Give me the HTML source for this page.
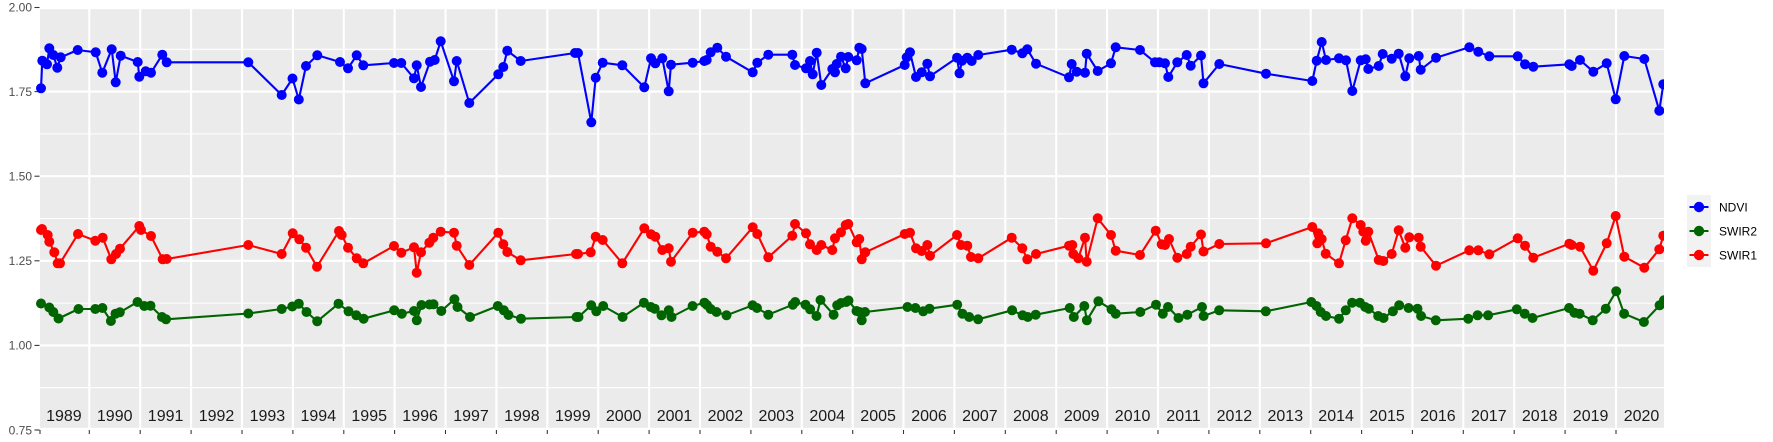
<!DOCTYPE html>
<html><head><meta charset="utf-8"><style>
html,body{margin:0;padding:0;background:#fff;}
svg{display:block;}
text{font-family:"Liberation Sans",Arial,sans-serif;}
</style></head><body>
<svg width="1773" height="442" viewBox="0 0 1773 442" xmlns="http://www.w3.org/2000/svg">
<defs>
<marker id="mb" markerWidth="12" markerHeight="12" refX="6" refY="6" markerUnits="userSpaceOnUse"><circle cx="6" cy="6" r="5" fill="#0000ff"/></marker>
<marker id="mr" markerWidth="12" markerHeight="12" refX="6" refY="6" markerUnits="userSpaceOnUse"><circle cx="6" cy="6" r="5" fill="#ff0000"/></marker>
<marker id="mg" markerWidth="12" markerHeight="12" refX="6" refY="6" markerUnits="userSpaceOnUse"><circle cx="6" cy="6" r="5" fill="#006400"/></marker>
<clipPath id="cp"><rect x="30" y="0" width="1634" height="442"/></clipPath>
</defs>
<rect x="40" y="7" width="1624" height="423" fill="#ebebeb"/>
<g stroke="#ffffff" stroke-width="1.07">
<line x1="40" x2="1664" y1="49.3" y2="49.3"/>
<line x1="40" x2="1664" y1="133.9" y2="133.9"/>
<line x1="40" x2="1664" y1="218.5" y2="218.5"/>
<line x1="40" x2="1664" y1="303.1" y2="303.1"/>
<line x1="40" x2="1664" y1="387.7" y2="387.7"/>
</g>
<g stroke="#ffffff" stroke-width="2.13">
<line x1="40" x2="1664" y1="8" y2="8"/>
<line x1="40" x2="1664" y1="91.6" y2="91.6"/>
<line x1="40" x2="1664" y1="176.2" y2="176.2"/>
<line x1="40" x2="1664" y1="260.8" y2="260.8"/>
<line x1="40" x2="1664" y1="345.4" y2="345.4"/>
<line x1="40" x2="1664" y1="429" y2="429"/>
<line x1="89.3" x2="89.3" y1="7" y2="430"/>
<line x1="140.2" x2="140.2" y1="7" y2="430"/>
<line x1="191.1" x2="191.1" y1="7" y2="430"/>
<line x1="242.0" x2="242.0" y1="7" y2="430"/>
<line x1="292.9" x2="292.9" y1="7" y2="430"/>
<line x1="343.8" x2="343.8" y1="7" y2="430"/>
<line x1="394.6" x2="394.6" y1="7" y2="430"/>
<line x1="445.5" x2="445.5" y1="7" y2="430"/>
<line x1="496.4" x2="496.4" y1="7" y2="430"/>
<line x1="547.3" x2="547.3" y1="7" y2="430"/>
<line x1="598.2" x2="598.2" y1="7" y2="430"/>
<line x1="649.1" x2="649.1" y1="7" y2="430"/>
<line x1="700.0" x2="700.0" y1="7" y2="430"/>
<line x1="750.9" x2="750.9" y1="7" y2="430"/>
<line x1="801.8" x2="801.8" y1="7" y2="430"/>
<line x1="852.7" x2="852.7" y1="7" y2="430"/>
<line x1="903.5" x2="903.5" y1="7" y2="430"/>
<line x1="954.4" x2="954.4" y1="7" y2="430"/>
<line x1="1005.3" x2="1005.3" y1="7" y2="430"/>
<line x1="1056.2" x2="1056.2" y1="7" y2="430"/>
<line x1="1107.1" x2="1107.1" y1="7" y2="430"/>
<line x1="1158.0" x2="1158.0" y1="7" y2="430"/>
<line x1="1208.9" x2="1208.9" y1="7" y2="430"/>
<line x1="1259.8" x2="1259.8" y1="7" y2="430"/>
<line x1="1310.7" x2="1310.7" y1="7" y2="430"/>
<line x1="1361.6" x2="1361.6" y1="7" y2="430"/>
<line x1="1412.4" x2="1412.4" y1="7" y2="430"/>
<line x1="1463.3" x2="1463.3" y1="7" y2="430"/>
<line x1="1514.2" x2="1514.2" y1="7" y2="430"/>
<line x1="1565.1" x2="1565.1" y1="7" y2="430"/>
<line x1="1616.0" x2="1616.0" y1="7" y2="430"/>
</g>
<!-- axis ticks -->
<g stroke="#333333" stroke-width="1.07">
<line x1="34.5" x2="39.5" y1="7.5" y2="7.5"/>
<line x1="34.5" x2="39.5" y1="91.6" y2="91.6"/>
<line x1="34.5" x2="39.5" y1="176.2" y2="176.2"/>
<line x1="34.5" x2="39.5" y1="260.8" y2="260.8"/>
<line x1="34.5" x2="39.5" y1="345.4" y2="345.4"/>
<line x1="34.5" x2="39.5" y1="430" y2="430"/>
<line x1="40" x2="40" y1="430" y2="434"/>
<line x1="89.3" x2="89.3" y1="430" y2="434"/>
<line x1="140.2" x2="140.2" y1="430" y2="434"/>
<line x1="191.1" x2="191.1" y1="430" y2="434"/>
<line x1="242.0" x2="242.0" y1="430" y2="434"/>
<line x1="292.9" x2="292.9" y1="430" y2="434"/>
<line x1="343.8" x2="343.8" y1="430" y2="434"/>
<line x1="394.6" x2="394.6" y1="430" y2="434"/>
<line x1="445.5" x2="445.5" y1="430" y2="434"/>
<line x1="496.4" x2="496.4" y1="430" y2="434"/>
<line x1="547.3" x2="547.3" y1="430" y2="434"/>
<line x1="598.2" x2="598.2" y1="430" y2="434"/>
<line x1="649.1" x2="649.1" y1="430" y2="434"/>
<line x1="700.0" x2="700.0" y1="430" y2="434"/>
<line x1="750.9" x2="750.9" y1="430" y2="434"/>
<line x1="801.8" x2="801.8" y1="430" y2="434"/>
<line x1="852.7" x2="852.7" y1="430" y2="434"/>
<line x1="903.5" x2="903.5" y1="430" y2="434"/>
<line x1="954.4" x2="954.4" y1="430" y2="434"/>
<line x1="1005.3" x2="1005.3" y1="430" y2="434"/>
<line x1="1056.2" x2="1056.2" y1="430" y2="434"/>
<line x1="1107.1" x2="1107.1" y1="430" y2="434"/>
<line x1="1158.0" x2="1158.0" y1="430" y2="434"/>
<line x1="1208.9" x2="1208.9" y1="430" y2="434"/>
<line x1="1259.8" x2="1259.8" y1="430" y2="434"/>
<line x1="1310.7" x2="1310.7" y1="430" y2="434"/>
<line x1="1361.6" x2="1361.6" y1="430" y2="434"/>
<line x1="1412.4" x2="1412.4" y1="430" y2="434"/>
<line x1="1463.3" x2="1463.3" y1="430" y2="434"/>
<line x1="1514.2" x2="1514.2" y1="430" y2="434"/>
<line x1="1565.1" x2="1565.1" y1="430" y2="434"/>
<line x1="1616.0" x2="1616.0" y1="430" y2="434"/>
</g>
<g font-size="12" fill="#4d4d4d" text-anchor="end">
<text x="32" y="11.4">2.00</text>
<text x="32" y="95.9">1.75</text>
<text x="32" y="180.5">1.50</text>
<text x="32" y="265.1">1.25</text>
<text x="32" y="349.7">1.00</text>
<text x="32" y="434.3">0.75</text>
</g>
<g font-size="16" fill="#1a1a1a" text-anchor="middle">
<text x="63.9" y="421">1989</text>
<text x="114.7" y="421">1990</text>
<text x="165.6" y="421">1991</text>
<text x="216.5" y="421">1992</text>
<text x="267.4" y="421">1993</text>
<text x="318.3" y="421">1994</text>
<text x="369.2" y="421">1995</text>
<text x="420.1" y="421">1996</text>
<text x="471.0" y="421">1997</text>
<text x="521.9" y="421">1998</text>
<text x="572.8" y="421">1999</text>
<text x="623.7" y="421">2000</text>
<text x="674.5" y="421">2001</text>
<text x="725.4" y="421">2002</text>
<text x="776.3" y="421">2003</text>
<text x="827.2" y="421">2004</text>
<text x="878.1" y="421">2005</text>
<text x="929.0" y="421">2006</text>
<text x="979.9" y="421">2007</text>
<text x="1030.8" y="421">2008</text>
<text x="1081.7" y="421">2009</text>
<text x="1132.6" y="421">2010</text>
<text x="1183.5" y="421">2011</text>
<text x="1234.4" y="421">2012</text>
<text x="1285.3" y="421">2013</text>
<text x="1336.1" y="421">2014</text>
<text x="1387.0" y="421">2015</text>
<text x="1437.9" y="421">2016</text>
<text x="1488.8" y="421">2017</text>
<text x="1539.7" y="421">2018</text>
<text x="1590.6" y="421">2019</text>
<text x="1641.5" y="421">2020</text>
</g>
<g clip-path="url(#cp)" fill="none" stroke-width="2.1" stroke-linejoin="round">
<polyline stroke="#0000ff" marker-start="url(#mb)" marker-mid="url(#mb)" marker-end="url(#mb)" points="41,88.3 42.3,60.7 47,64.3 49.3,48.3 53.3,55 57.3,67.7 60.7,57.3 77.7,50 95.7,52.3 102.3,72.7 111.7,49.3 115.7,82.3 120.7,55.7 137.7,62 139.3,76.7 145.7,71.3 151,72.7 162.3,54.7 166.7,62.3 248.3,62.3 281.7,95 292.5,78.5 298.8,99.5 306,66 317.3,55.3 340,62 348,68.3 356.7,55.3 363.3,65.3 394,63 401.3,63 414,78.3 416.7,65.3 421,87 430,61.7 434.7,60 440.7,41.3 454,81.3 456.7,61 469.3,103 498.3,74.3 503.3,67 507.3,50.7 520.7,61 575,53 578,53 591.3,122.3 595.7,77.7 602.7,62.7 622.3,65.3 644.3,87.3 651,58.3 655.3,63.3 662.3,58.3 668.7,91.3 671,64.7 692.7,62.7 704.3,61 706.7,60 710.7,52.3 717.3,47.7 726,56.7 752.7,72.3 757.3,62.7 768.3,54.7 792.3,54.7 795,65 806,68.3 810,61 812.7,74.3 816.7,52.7 821.3,85 832.3,69 835,72.3 836.7,64 841,56.7 845.7,68.3 848.3,57 856.7,60.3 859.3,47.7 861.7,49 865.3,83.3 904.7,65 906.7,57.3 910,52.3 916,77 921.7,72.3 927.3,63.7 930,76.3 957,57.7 959.5,73.3 962,60.7 967.3,57.7 971.7,61 978.3,55 1011.7,49.7 1022.3,53.3 1027.3,49.3 1036,63.7 1069,77.3 1071.7,64 1076.7,71.7 1085,72.7 1086.7,53.7 1097.7,71 1111,63.3 1115.7,47.3 1140,50 1155,62.3 1159.3,62.3 1165,63.3 1168.3,77 1177.3,62.3 1186.7,55 1190.7,65.7 1201,55.5 1203.5,83.3 1219.3,64 1266,73.7 1312.3,81 1316.7,60.7 1321.7,42 1326,60 1339,58.3 1346,60.3 1352.3,91 1360.7,60.3 1365.7,59.3 1368.3,69 1378.7,66 1382.7,54 1391.7,58.7 1398.7,53.7 1405.3,76.3 1409.3,58.3 1418.7,56 1420.7,69.7 1436,57.7 1469.3,47.3 1478.3,51.7 1489.3,56.3 1517.7,56.3 1525,64.3 1533.3,66.7 1569.3,64.3 1571.7,66 1580,60 1593.3,71.7 1606.7,63.3 1615.7,99.3 1624.3,56 1644.3,59 1659.3,110.7 1663.3,84.3"/>
<polyline stroke="#006400" marker-start="url(#mg)" marker-mid="url(#mg)" marker-end="url(#mg)" points="41,303.5 49.3,307.5 53.3,312 58.5,318.5 78.5,309 95.3,309 102.4,308 110.9,321 115.5,313.7 119.8,312.3 137.5,302 144.3,306 150.5,305.7 162,317 166,319.3 248.3,313.5 281.7,309 292.3,306.5 298.8,303.7 306.5,312 317.2,321.3 338.5,303.7 348.5,311.3 356.3,315.3 363.6,318.7 394.2,310.3 401.8,313.7 414,311 416.8,320.3 421.5,305 429.5,304.5 433.5,304.3 441.3,311 454.4,299.3 457.5,307 470,317 497.8,306 503.8,310.3 508.5,315 521,318.7 576.5,317 578.5,317 591.2,305.3 596.3,311.3 603.2,306 622.6,317 643.9,302.7 650.8,307 654.7,308.7 661.5,315.3 668.8,310.3 671.5,317 692.6,306 704.4,302.7 707,305 710.7,309 716.5,312 726.5,315.3 752.6,305.3 757,308 768.3,314.7 792.8,304.7 795.2,302 805.5,304.7 810.1,309.3 816.5,316 820.5,300 833.6,314.7 837.2,305.3 841,303 846.2,302 848.5,300.5 856.5,311 859.5,312 861.7,320.3 865,312 907.5,307 915.4,308 923.2,311.3 929.5,308.7 957.2,304.7 962.4,313.7 969.2,317 978.1,319.3 1012.1,310.3 1022.6,315.3 1027.8,317 1035.7,314.7 1069.7,308 1073.8,317 1084.3,306 1086.9,320.3 1098.4,301.3 1111.5,309.3 1115.7,313.7 1140.3,312 1156,304.7 1162.8,313.7 1168,307 1178.5,318 1187.3,314.7 1202,307 1203.6,316 1219.2,310.3 1265.8,311.3 1311.3,302 1316.5,306 1320.7,312 1326,316 1339,318.7 1345.8,310.3 1352.1,302.7 1359.9,302.7 1365.2,307 1368.8,308.7 1378.2,316 1383.5,318 1392.9,311.3 1399.2,305.3 1408.6,308 1417.5,308.7 1421.1,316 1435.8,320.3 1468.2,318.7 1477.6,315.3 1488.1,315.3 1516.8,309.3 1524.7,313.7 1532.5,318 1569.1,308 1574.4,312.7 1579.6,313.7 1592.7,320.3 1605.8,308.7 1616.2,291.3 1624.1,313.7 1643.9,322 1659.6,305.3 1664,300.3"/>
<polyline stroke="#ff0000" marker-start="url(#mr)" marker-mid="url(#mr)" marker-end="url(#mr)" points="41,230 42,229 47.7,235 49.3,241.7 54.3,252.3 57.7,263.3 60,263.3 78,234 95.3,240.7 102.7,237.7 111.3,259.3 116,254 120,248.7 139.3,226 141,230 151,236 162.7,259.3 166.7,259 248.3,245 281.7,254 292.7,233.3 299.3,239.3 306,247.7 317,266.7 339,231 341.7,235 348,247.7 356.7,258.3 363.3,263.3 394,246 401.3,252.7 414,247.3 416.7,272.7 421,252.3 429.3,242.7 433.3,237.7 440.7,231.7 454,232.7 456.7,245.7 469.3,265 498.3,232.7 503.3,244.3 507.3,252 520.7,260.3 576,254 578,254 590.7,252.3 595.7,236.7 602.7,240 622.3,263.3 644.3,228.3 651,234.3 655.3,236.7 662.3,250 668.7,248.3 671,261.7 692.7,232.7 704.3,231.7 706.7,234.3 710.7,246.7 717.3,251.7 726,258.3 752.7,227.3 757.3,234 768.3,257.3 792.3,235.7 795,224 806,233.3 810,244.3 816.7,250 821.3,245 832.3,250 835,238.3 841,232.3 845.7,225 848.3,224 856.7,242.3 859.3,239 861.7,259.3 865.3,252.3 904.7,234 910,232.7 916,248.3 921.7,251 927.3,245 930,255.7 957,235 961,245 967.3,245.7 971,257 978.3,258.3 1011.7,237.7 1022.3,248.3 1027.3,259.3 1036,254 1069,245.7 1072.3,245 1073.3,254 1078.3,258.3 1085,237.7 1086.7,261.7 1097.7,218.3 1111,235 1115.7,250.7 1140,255 1155.7,230.7 1161.7,244.3 1165,245 1169,239 1177.3,257.7 1186.7,254 1190.7,246.7 1201,234.5 1203.5,251.5 1219.3,244 1266,243.3 1312.3,227 1317.3,243.3 1318.3,233.3 1321.7,239 1325.7,253.7 1339,263.3 1345.7,240.3 1352.3,218.3 1360.7,225 1363.3,231.7 1365.7,240.7 1368.3,231.7 1378.7,260 1383.3,261 1391.7,254 1398.7,230.3 1405.3,247.7 1409.3,237.3 1418.7,237.7 1420.7,246.7 1436,265.7 1469.3,250.3 1478.3,250.3 1489.3,254.3 1517.7,238.3 1525,245.7 1533.3,257.7 1569.3,243.7 1571.7,245 1580,246.7 1593.3,270.7 1606.7,243.3 1615.7,216 1624.3,256.7 1644.3,267.7 1659.3,249.3 1663.3,235.7"/>
</g>
<!-- legend -->
<rect x="1687" y="195" width="24" height="72" fill="#f2f2f2"/>
<g stroke-width="2.1">
<line x1="1689.5" x2="1708.5" y1="207" y2="207" stroke="#0000ff"/>
<line x1="1689.5" x2="1708.5" y1="231" y2="231" stroke="#006400"/>
<line x1="1689.5" x2="1708.5" y1="255" y2="255" stroke="#ff0000"/>
</g>
<circle cx="1699" cy="207" r="5.2" fill="#0000ff"/>
<circle cx="1699" cy="231" r="5.2" fill="#006400"/>
<circle cx="1699" cy="255" r="5.2" fill="#ff0000"/>
<g font-size="12" fill="#000000">
<text x="1719" y="211.3">NDVI</text>
<text x="1719" y="235.3">SWIR2</text>
<text x="1719" y="259.3">SWIR1</text>
</g>
</svg>
</body></html>
